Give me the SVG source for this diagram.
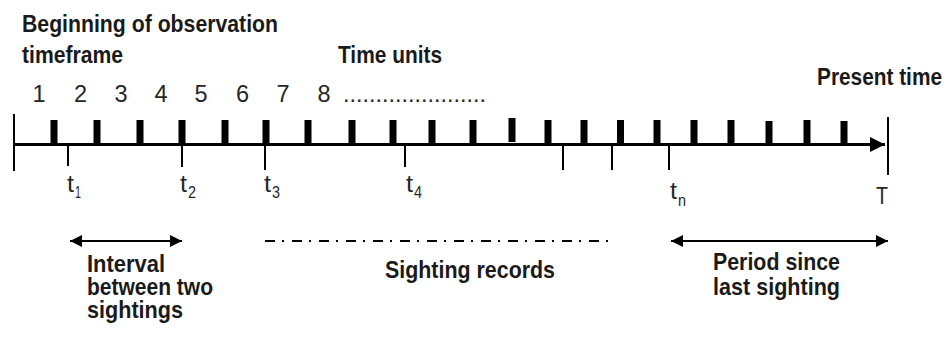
<svg xmlns="http://www.w3.org/2000/svg" width="948" height="340" viewBox="0 0 948 340">
<defs>
<style>
.b{font-family:"Liberation Sans",Arial,sans-serif;font-weight:bold;font-size:24px;fill:#1a1a1a}
.r{font-family:"Liberation Sans",Arial,sans-serif;font-size:23.5px;fill:#262626}
.s{font-family:"Liberation Sans",Arial,sans-serif;font-size:17px;fill:#262626}
.tk{fill:#000}
.ln{stroke:#000;stroke-width:2;fill:none}
</style>
<marker id="ah" viewBox="0 0 12 12" refX="12" refY="6" markerWidth="12" markerHeight="12" markerUnits="userSpaceOnUse" orient="auto-start-reverse">
<path d="M0,0 L12,6 L0,12 Z" fill="#000"/>
</marker>
<marker id="axh" viewBox="0 0 15 15" refX="15" refY="7.5" markerWidth="15" markerHeight="15" markerUnits="userSpaceOnUse" orient="auto">
<path d="M0,0 L15,7.5 L0,15 Z" fill="#000"/>
</marker>
</defs>
<rect width="948" height="340" fill="#fff"/>

<g id="title-begin">
<text class="b" x="22" y="32" textLength="256" lengthAdjust="spacingAndGlyphs">Beginning of observation</text>
<text class="b" x="22" y="63" textLength="101" lengthAdjust="spacingAndGlyphs">timeframe</text>
</g>
<g id="time-units">
<text class="b" x="338" y="63" textLength="104" lengthAdjust="spacingAndGlyphs">Time units</text>
</g>
<g id="present-time">
<text class="b" x="817" y="85" textLength="125" lengthAdjust="spacingAndGlyphs">Present time</text>
</g>
<g id="unit-numbers" text-anchor="middle">
<text class="r" x="39" y="102">1</text>
<text class="r" x="80.5" y="102">2</text>
<text class="r" x="121" y="102">3</text>
<text class="r" x="161" y="102">4</text>
<text class="r" x="201" y="102">5</text>
<text class="r" x="242.5" y="102">6</text>
<text class="r" x="283" y="102">7</text>
<text class="r" x="324" y="102">8</text>
</g>
<g id="unit-dots">
<text class="r" x="343" y="102" textLength="143" lengthAdjust="spacingAndGlyphs">......................</text>
</g>

<g id="axis">
<line x1="14" y1="144.5" x2="885" y2="144.5" stroke="#000" stroke-width="3" marker-end="url(#axh)"/>
<line class="ln" x1="14" y1="114" x2="14" y2="171"/>
<line class="ln" x1="888" y1="117" x2="888" y2="175"/>
</g>
<g id="unit-ticks" class="tk">
<rect x="50.5" y="120" width="7" height="24"/>
<rect x="93.5" y="120" width="7" height="24"/>
<rect x="136.5" y="120" width="7" height="24"/>
<rect x="178.5" y="120" width="7" height="24"/>
<rect x="221.5" y="120" width="7" height="24"/>
<rect x="262.5" y="120" width="7" height="24"/>
<rect x="304.5" y="120" width="7" height="24"/>
<rect x="348.5" y="120" width="7" height="24"/>
<rect x="389.5" y="120" width="7" height="24"/>
<rect x="428.5" y="120" width="7" height="24"/>
<rect x="469.5" y="120" width="7" height="24"/>
<rect x="508.5" y="118" width="7" height="24"/>
<rect x="544.5" y="120" width="7" height="24"/>
<rect x="580.5" y="120" width="7" height="24"/>
<rect x="617" y="120" width="7" height="24"/>
<rect x="653.5" y="120" width="7" height="24"/>
<rect x="690.5" y="120" width="7" height="24"/>
<rect x="727.5" y="120" width="7" height="24"/>
<rect x="765.5" y="121" width="7" height="23"/>
<rect x="803.5" y="120" width="7" height="24"/>
<rect x="840.5" y="121" width="7" height="23"/>
</g>
<g id="sighting-ticks">
<line class="ln" x1="68" y1="145" x2="68" y2="166"/>
<line class="ln" x1="182" y1="145" x2="182" y2="167"/>
<line class="ln" x1="265" y1="145" x2="265" y2="170"/>
<line class="ln" x1="405" y1="145" x2="405" y2="167"/>
<line class="ln" x1="563" y1="145" x2="563" y2="170"/>
<line class="ln" x1="612" y1="145" x2="612" y2="170"/>
<line class="ln" x1="669" y1="145" x2="669" y2="170"/>
</g>
<g id="sighting-labels">
<text x="67" y="192"><tspan class="r" font-size="24px" textLength="7" lengthAdjust="spacingAndGlyphs">t</tspan><tspan class="s" x="75" y="198" textLength="6" lengthAdjust="spacingAndGlyphs">1</tspan></text>
<text x="180" y="192"><tspan class="r" font-size="24px" textLength="7" lengthAdjust="spacingAndGlyphs">t</tspan><tspan class="s" x="188" y="198" textLength="8" lengthAdjust="spacingAndGlyphs">2</tspan></text>
<text x="264" y="192"><tspan class="r" font-size="24px" textLength="7" lengthAdjust="spacingAndGlyphs">t</tspan><tspan class="s" x="272" y="198" textLength="8" lengthAdjust="spacingAndGlyphs">3</tspan></text>
<text x="406" y="192"><tspan class="r" font-size="24px" textLength="7" lengthAdjust="spacingAndGlyphs">t</tspan><tspan class="s" x="414" y="198" textLength="8" lengthAdjust="spacingAndGlyphs">4</tspan></text>
<text x="670" y="199"><tspan class="r" font-size="24px" textLength="7" lengthAdjust="spacingAndGlyphs">t</tspan><tspan class="s" x="678" y="206" textLength="8" lengthAdjust="spacingAndGlyphs">n</tspan></text>
<text class="r" x="876" y="204" font-size="24px" textLength="12" lengthAdjust="spacingAndGlyphs">T</text>
</g>

<g id="connectors">
<line class="ln" x1="70" y1="241" x2="182" y2="241" marker-start="url(#ah)" marker-end="url(#ah)"/>
<line x1="265" y1="241" x2="612" y2="241" stroke="#000" stroke-width="2" stroke-dasharray="10 7 2 8"/>
<line class="ln" x1="671" y1="241" x2="888" y2="241" marker-start="url(#ah)" marker-end="url(#ah)"/>
</g>

<g id="interval-label">
<text class="b" x="87" y="272" textLength="78" lengthAdjust="spacingAndGlyphs">Interval</text>
<text class="b" x="87" y="295" textLength="126" lengthAdjust="spacingAndGlyphs">between two</text>
<text class="b" x="87" y="318" textLength="96" lengthAdjust="spacingAndGlyphs">sightings</text>
</g>
<g id="records-label">
<text class="b" x="385" y="278" textLength="170" lengthAdjust="spacingAndGlyphs">Sighting records</text>
</g>
<g id="period-label">
<text class="b" x="713" y="270" textLength="127" lengthAdjust="spacingAndGlyphs">Period since</text>
<text class="b" x="713" y="295" textLength="127" lengthAdjust="spacingAndGlyphs">last sighting</text>
</g>
</svg>
